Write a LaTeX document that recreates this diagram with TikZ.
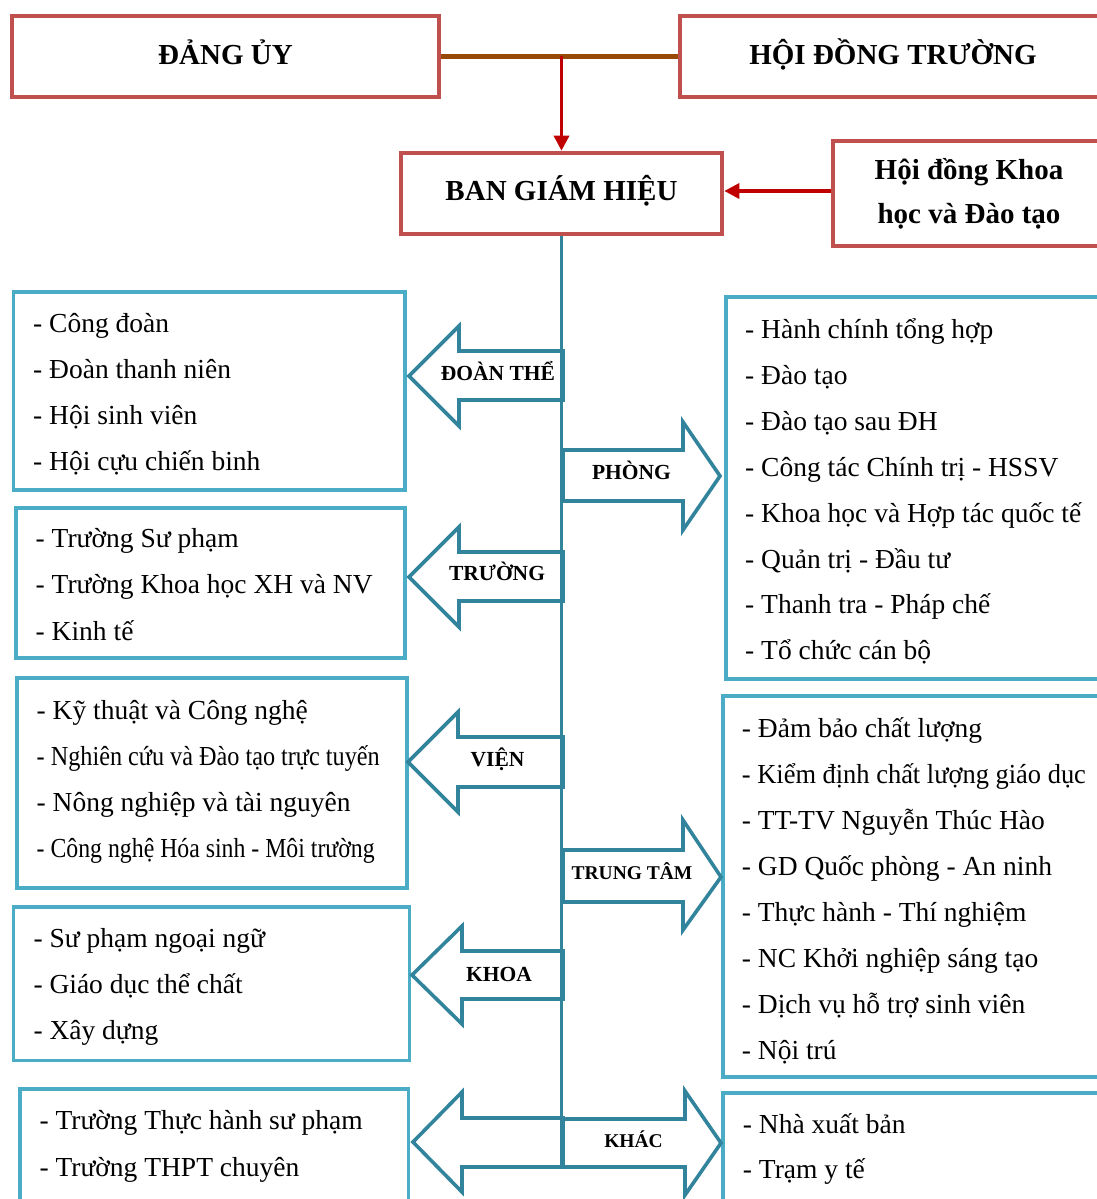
\documentclass[tikz,border=0pt]{standalone}
\usepackage{fontspec}
\setmainfont{Liberation Serif}
\usetikzlibrary{arrows.meta,calc}
\definecolor{boxred}{HTML}{C0504D}
\definecolor{boxblue}{HTML}{4BACC6}
\definecolor{teal}{HTML}{31849B}
\definecolor{brownline}{HTML}{984807}
\definecolor{arrred}{HTML}{C00000}
\tikzset{
  redbox/.style={draw=boxred, line width=4.6pt, rectangle, inner sep=0pt, fill=white},
  bluebox/.style={draw=boxblue, line width=3.3pt, rectangle, inner sep=0pt, fill=white},
  toptext/.style={font=\fontsize{29}{34}\selectfont\bfseries, inner sep=0pt, anchor=base},
  item/.style={font=\fontsize{27.5}{33}\selectfont, inner sep=0pt, anchor=base west},
  arrlabel/.style={font=\fontsize{21.5}{25}\selectfont\bfseries, inner sep=0pt, anchor=base},
  arrlabelsm/.style={font=\fontsize{19.5}{23}\selectfont\bfseries, inner sep=0pt, anchor=base},
  blockarrow/.style={draw=teal, line width=3.6pt, fill=white, line join=miter},
  vline/.style={draw=teal, line width=3.6pt},
  brown/.style={draw=brownline, line width=4.3pt},
  redarrow/.style={draw=arrred, line width=3.4pt, -{Triangle[length=15pt,width=15pt]}}
}
\begin{document}
\begin{tikzpicture}[x=1pt,y=-1pt]
\clip (0,0) rectangle (1097,1199);
\fill[white] (0,0) rectangle (1097,1199);

% top boxes
\node[redbox, minimum width=427, minimum height=81] (du) at (225.5,56.5) {};
\node[toptext] (dut) at (225.5,64) {ĐẢNG ỦY};
\node[redbox, minimum width=430, minimum height=81] (hdt) at (895,56.5) {};
\node[toptext] (hdtt) at (893,64) {HỘI ĐỒNG TRƯỜNG};
\node[redbox, minimum width=321, minimum height=81] (bgh) at (561.5,193.5) {};
\node[toptext] (bght) at (561.5,200) {BAN GIÁM HIỆU};
\node[redbox, minimum width=273, minimum height=105] (hdkh) at (969.5,193.5) {};
\node[toptext] (hdkh1) at (969,179.5) {Hội đồng Khoa};
\node[toptext] (hdkh2) at (969,223.5) {học và Đào tạo};

\draw[brown] (du.east) -- (hdt.west);
\coordinate (junc) at (bgh.north |- du.east);
\draw[redarrow] (junc) -- (bgh.north);
\draw[redarrow] (hdkh.west |- 0,191) -- (bgh.east |- 0,191);

% left boxes
\node[bluebox, minimum width=391.5, minimum height=198] (l1) at (209.25,391) {};
\foreach \t [count=\i] in {- Công đoàn, - Đoàn thanh niên, - Hội sinh viên, - Hội cựu chiến binh}
  \node[item] (l1-\i) at (33,{332+46*(\i-1)}) {\t};

\node[bluebox, minimum width=389, minimum height=150] (l2) at (210.5,583) {};
\foreach \t [count=\i] in {- Trường Sư phạm, - Trường Khoa học XH và NV, - Kinh tế}
  \node[item] (l2-\i) at (35.5,{547.5+46.3*(\i-1)}) {\t};

\node[bluebox, minimum width=390, minimum height=210] (l3) at (212,783) {};
\node[item] (l3-1) at (36.5,719) {- Kỹ thuật và Công nghệ};
\node[item] (l3-2) at (36.5,765) {\resizebox{343pt}{\height}{- Nghiên cứu và Đào tạo trực tuyến}};
\node[item] (l3-3) at (36.5,811) {- Nông nghiệp và tài nguyên};
\node[item] (l3-4) at (36.5,857) {\resizebox{338pt}{\height}{- Công nghệ Hóa sinh - Môi trường}};

\node[bluebox, minimum width=396, minimum height=153.5] (l4) at (211.5,983.75) {};
\foreach \t [count=\i] in {- Sư phạm ngoại ngữ, - Giáo dục thể chất, - Xây dựng}
  \node[item] (l4-\i) at (33.3,{947+46*(\i-1)}) {\t};

\node[bluebox, minimum width=388.5, minimum height=131] (l5) at (214.25,1154.5) {};
\foreach \t [count=\i] in {- Trường Thực hành sư phạm, - Trường THPT chuyên}
  \node[item] (l5-\i) at (39.3,{1129.5+46.7*(\i-1)}) {\t};

% right boxes
\node[bluebox, minimum width=384, minimum height=382] (r1) at (918,488) {};
\foreach \t [count=\i] in {- Hành chính tổng hợp, - Đào tạo, - Đào tạo sau ĐH, - Công tác Chính trị - HSSV, - Khoa học và Hợp tác quốc tế, - Quản trị - Đầu tư, - Thanh tra - Pháp chế, - Tổ chức cán bộ}
  \node[item] (r1-\i) at (745,{338.5+45.9*(\i-1)}) {\t};

\node[bluebox, minimum width=387, minimum height=381] (r2) at (916.5,886.5) {};
\node[item] (r2-1) at (741.7,737) {- Đảm bảo chất lượng};
\node[item] (r2-2) at (741.7,783.1) {\resizebox{344pt}{\height}{- Kiểm định chất lượng giáo dục}};
\foreach \t [count=\i from 3] in {- TT-TV Nguyễn Thúc Hào, - GD Quốc phòng - An ninh, - Thực hành - Thí nghiệm, - NC Khởi nghiệp sáng tạo, - Dịch vụ hỗ trợ sinh viên, - Nội trú}
  \node[item] (r2-\i) at (741.7,{737+46.1*(\i-1)}) {\t};

\node[bluebox, minimum width=387, minimum height=127] (r3) at (916.5,1156.5) {};
\foreach \t [count=\i] in {- Nhà xuất bản, - Trạm y tế}
  \node[item] (r3-\i) at (742.7,{1133+45.6*(\i-1)}) {\t};

% block arrows
\draw[blockarrow] (563,351) -- (459,351) -- (459,326) -- (409,376) -- (459,426) -- (459,400) -- (563,400) -- cycle;
\node[arrlabel] (a1) at (498,380) {ĐOÀN THỂ};

\draw[blockarrow] (563,450) -- (683,450) -- (683,422) -- (720,476) -- (683,530) -- (683,501) -- (563,501) -- cycle;
\node[arrlabel] (a2) at (631.5,479.5) {PHÒNG};

\draw[blockarrow] (563,552) -- (459,552) -- (459,527) -- (409,577) -- (459,627) -- (459,601) -- (563,601) -- cycle;
\node[arrlabel] (a3) at (497,580) {TRƯỜNG};

\draw[blockarrow] (563,737) -- (458,737) -- (458,712) -- (408,762) -- (458,812) -- (458,787) -- (563,787) -- cycle;
\node[arrlabel] (a4) at (497.5,766) {VIỆN};

\draw[blockarrow] (563,850) -- (683,850) -- (683,820) -- (721,877) -- (683,930) -- (683,902) -- (563,902) -- cycle;
\node[arrlabelsm] (a5) at (632,879.3) {TRUNG TÂM};

\draw[blockarrow] (563,951) -- (462,951) -- (462,926) -- (412,975) -- (462,1024) -- (462,999) -- (563,999) -- cycle;
\node[arrlabel] (a6) at (499,981) {KHOA};

\draw[blockarrow] (563,1118) -- (462,1118) -- (462,1092) -- (413,1142) -- (462,1192) -- (462,1167) -- (563,1167) -- cycle;
\draw[blockarrow] (563,1119) -- (685,1119) -- (685,1091) -- (721,1143) -- (685,1195) -- (685,1167) -- (563,1167) -- cycle;
\node[arrlabelsm] (a7) at (633.5,1147.3) {KHÁC};

% vertical spine
\coordinate (spineend) at (bgh.south |- 0,1168);
\draw[vline] (bgh.south) -- (spineend);
\end{tikzpicture}
\end{document}
